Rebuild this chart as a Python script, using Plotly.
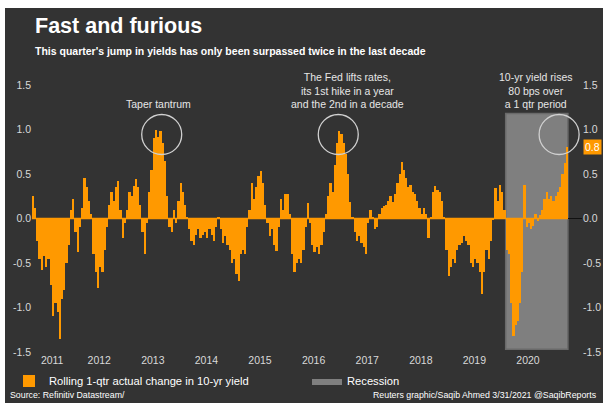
import pandas as pd
import plotly.graph_objects as go

# ---- data: rolling 1-qtr change in US 10-yr yield (pct pts), semi-monthly readings ----
chg_2011 = [0.25, 0.12, -0.25, -0.45, -0.58, -0.42, -0.55, -0.45, -0.75, -1.1, -0.95, -1.05,
            -1.35, -0.9, -0.8, -0.5, -0.3, 0.1]
chg_2012 = [0.22, -0.15, -0.38, -0.1, 0.12, 0.45, 0.35, 0.2, 0.05, -0.4, -0.6, -0.78,
            -0.55, -0.6, -0.35, -0.1, 0.15, 0.3, 0.2, 0.35, 0.42, 0.1, -0.22, -0.05]
chg_2013 = [0.1, 0.3, 0.25, 0.36, 0.44, 0.35, 0.15, -0.15, -0.4, -0.05, 0.3, 0.55,
            0.9, 1.0, 0.92, 0.98, 0.85, 0.65, 0.25, -0.1, -0.15, 0.1, -0.05, 0.2]
chg_2014 = [0.4, 0.3, 0.15, 0.02, -0.12, -0.25, -0.3, -0.18, -0.12, -0.22, -0.18, -0.15,
            -0.22, -0.12, -0.18, -0.25, -0.1, 0.02, -0.12, -0.28, -0.2, -0.3, -0.35, -0.5]
chg_2015 = [-0.45, -0.62, -0.7, -0.4, -0.35, -0.4, -0.1, 0.1, 0.4, 0.22, 0.35, 0.48,
            0.53, 0.4, 0.15, -0.05, -0.2, -0.12, -0.3, -0.37, -0.1, 0.22, 0.1, 0.28]
chg_2016 = [0.28, 0.05, -0.4, -0.6, -0.5, -0.45, -0.5, -0.35, -0.1, 0.17, -0.05, -0.3,
            -0.38, -0.32, -0.4, -0.3, -0.15, 0.05, 0.25, 0.4, 0.3, 0.6, 0.85, 0.98]
chg_2017 = [0.95, 0.85, 0.72, 0.5, 0.18, 0.02, -0.15, -0.25, -0.2, -0.28, -0.32, -0.4,
            -0.05, 0.1, 0.02, -0.12, -0.1, 0.05, 0.12, 0.14, 0.15, 0.2, 0.25, 0.18]
chg_2018 = [0.28, 0.4, 0.5, 0.63, 0.55, 0.45, 0.35, 0.38, 0.3, 0.28, 0.2, 0.12,
            0.05, 0.12, 0.05, -0.22, 0.02, 0.3, 0.36, 0.32, 0.3, 0.2, 0.02, -0.35]
chg_2019 = [-0.65, -0.55, -0.45, -0.5, -0.35, -0.3, -0.28, -0.2, -0.25, -0.3, -0.5, -0.55,
            -0.45, -0.5, -0.6, -0.85, -0.6, -0.35, -0.45, -0.25, -0.02, 0.34, 0.2, 0.38]
chg_2020 = [0.3, 0.1, -0.35, -0.4, -0.95, -1.32, -1.2, -1.15, -0.95, -0.6, 0.38, -0.1,
            -0.05, -0.12, -0.08, 0.05, -0.03, 0.04, 0.1, 0.22, 0.3, 0.22, 0.25, 0.2]
chg_2021 = [0.25, 0.3, 0.35, 0.5, 0.62, 0.8]

series_start = "2011-04-01"
series_end = "2021-03-31"
recession_start = "2020-02-01"
recession_end = "2021-03-31"
year_labels = list(range(2011, 2021))
y_ticks = [-1.5, -1.0, -0.5, 0.0, 0.5, 1.0, 1.5]

series_name = "Rolling 1-qtr actual change in 10-yr yield"
recession_name = "Recession"
title_text = "Fast and furious"
subtitle_text = "This quarter's jump in yields has only been surpassed twice in the last decade"
source_text = "Source: Refinitiv Datastream/"
credit_text = "Reuters graphic/Saqib Ahmed 3/31/2021 @SaqibReports"
notes = [
    ("Taper tantrum", "2013-08-08", 1.29, "2013-09-01"),
    ("The Fed lifts rates,<br>its 1st hike in a year<br>and the 2nd in a decade", "2017-02-15", 1.44, "2016-12-17"),
    ("10-yr yield rises<br>80 bps over<br>a 1 qtr period", "2020-08-26", 1.44, "2021-01-30"),
]
circle_level = 0.944

values = (chg_2011 + chg_2012 + chg_2013 + chg_2014 + chg_2015 + chg_2016 +
          chg_2017 + chg_2018 + chg_2019 + chg_2020 + chg_2021)

# ---- styles ----
W, H = 603, 403
ML, MR, MT, MB = 32, 21, 85, 51
BG = "#333333"
ORANGE = "#FF9900"
GREY = "#7f7f7f"
TXT = "#e6e6e6"
FONT = "Liberation Sans"
PW, PH = W - ML - MR, H - MT - MB


def px(x):
    return (x - ML) / PW


def py(y):
    return (H - MB - y) / PH


starts = pd.date_range(series_start, periods=len(values), freq="SMS")
ends = list(starts[1:]) + [pd.Timestamp(series_end) + pd.Timedelta(days=1)]
ends = pd.DatetimeIndex(ends)
centers = starts + (ends - starts) / 2
widths = [(e - s).total_seconds() * 1000 for s, e in zip(starts, ends)]

fig = go.Figure()
fig.add_trace(go.Bar(
    x=centers, y=values, width=widths, name=series_name,
    marker=dict(color=ORANGE, line=dict(width=0)), legend="legend",
))
fig.add_trace(go.Scatter(
    x=[starts[0], pd.Timestamp(series_end)], y=[0, 0], mode="lines",
    line=dict(color=ORANGE, width=1.5), showlegend=False, yaxis="y2", hoverinfo="skip",
))
fig.add_trace(go.Scatter(
    x=[None], y=[None], mode="lines", fill="toself", fillcolor=GREY,
    line=dict(width=0, color=GREY), name=recession_name, legend="legend2",
))

shapes = [
    dict(type="rect", xref="x", yref="y", x0=recession_start, x1=recession_end,
         y0=-1.47, y1=1.18, fillcolor=GREY, line=dict(color="#6a6a6a", width=1.5), layer="below"),
    # white page border strips
    dict(type="rect", xref="paper", yref="paper", x0=px(0), x1=px(5), y0=py(H), y1=py(0),
         fillcolor="white", line=dict(width=0), layer="below"),
    dict(type="rect", xref="paper", yref="paper", x0=px(0), x1=px(W), y0=py(8), y1=py(0),
         fillcolor="white", line=dict(width=0), layer="below"),
]
annotations = []
for text, tx, ty, cx in notes:
    annotations.append(dict(text=text, x=tx, y=ty, xref="x", yref="y", showarrow=False,
                            font=dict(family=FONT, size=10.5, color=TXT), align="center",
                            xanchor="center", yanchor="middle"))
    shapes.append(dict(type="circle", xref="x", yref="y", xsizemode="pixel", ysizemode="pixel",
                       xanchor=cx, yanchor=circle_level, x0=-20, x1=20, y0=-20, y1=20,
                       line=dict(color="#d0d0d0", width=1.3), layer="above"))

annotations += [
    dict(text=title_text, x=px(33), y=py(26), xref="paper", yref="paper", showarrow=False,
         xanchor="left", yanchor="middle", font=dict(family=FONT, size=21.5, color="white", weight="bold")),
    dict(text=subtitle_text, x=px(33), y=py(51), xref="paper", yref="paper", showarrow=False,
         xanchor="left", yanchor="middle", font=dict(family=FONT, size=10.5, color="white", weight="bold")),
    dict(text=source_text, x=px(8), y=py(395), xref="paper", yref="paper", showarrow=False,
         xanchor="left", yanchor="middle", font=dict(family=FONT, size=8.8, color="white")),
    dict(text=credit_text, x=px(599), y=py(395), xref="paper", yref="paper", showarrow=False,
         xanchor="right", yanchor="middle", font=dict(family=FONT, size=8.8, color="white")),
    dict(text=f"{values[-1]:.1f}", x=1, y=values[-1], xref="paper", yref="y", showarrow=False,
         xanchor="left", yanchor="middle", xshift=1, bgcolor=ORANGE, borderpad=1,
         font=dict(family=FONT, size=10.5, color="white")),
]

x_start = pd.Timestamp(series_start)
tickvals = []
for yr in year_labels:
    a = max(pd.Timestamp(f"{yr}-01-01"), x_start)
    b = pd.Timestamp(f"{yr + 1}-01-01")
    tickvals.append(a + (b - a) / 2)
ytext = [f"{v:.1f}" for v in y_ticks]
tickfont = dict(family=FONT, size=10.5, color="#d9d9d9")
legfont = dict(family=FONT, size=11.2, color="white")

fig.update_layout(
    width=W, height=H, margin=dict(l=ML, r=MR, t=MT, b=MB, pad=0, autoexpand=False),
    paper_bgcolor=BG, plot_bgcolor=BG, barmode="overlay", bargap=0,
    font=dict(family=FONT, color="white"),
    xaxis=dict(type="date", range=[x_start, pd.Timestamp("2021-07-05")], tickvals=tickvals,
               ticktext=[str(y) for y in year_labels], showgrid=False, zeroline=False,
               ticks="", showline=False, tickfont=tickfont, tickangle=0),
    yaxis=dict(range=[-1.5, 1.5], tickvals=y_ticks, ticktext=ytext, showgrid=False,
               zeroline=True, zerolinecolor="#111111", zerolinewidth=1, ticks="",
               showline=False, tickfont=tickfont),
    yaxis2=dict(range=[-1.5, 1.5], tickvals=y_ticks, ticktext=ytext, showgrid=False,
                zeroline=False, ticks="", showline=False, tickfont=tickfont,
                overlaying="y", side="right"),
    legend=dict(xref="container", yref="container", x=9 / W, y=1 - 381 / H,
                xanchor="left", yanchor="middle", orientation="h", bgcolor="rgba(0,0,0,0)",
                font=legfont),
    legend2=dict(xref="container", yref="container", x=307 / W, y=1 - 381 / H,
                 xanchor="left", yanchor="middle", orientation="h", bgcolor="rgba(0,0,0,0)",
                 font=legfont),
    shapes=shapes, annotations=annotations, showlegend=True,
)

fig.write_html("out.html")
